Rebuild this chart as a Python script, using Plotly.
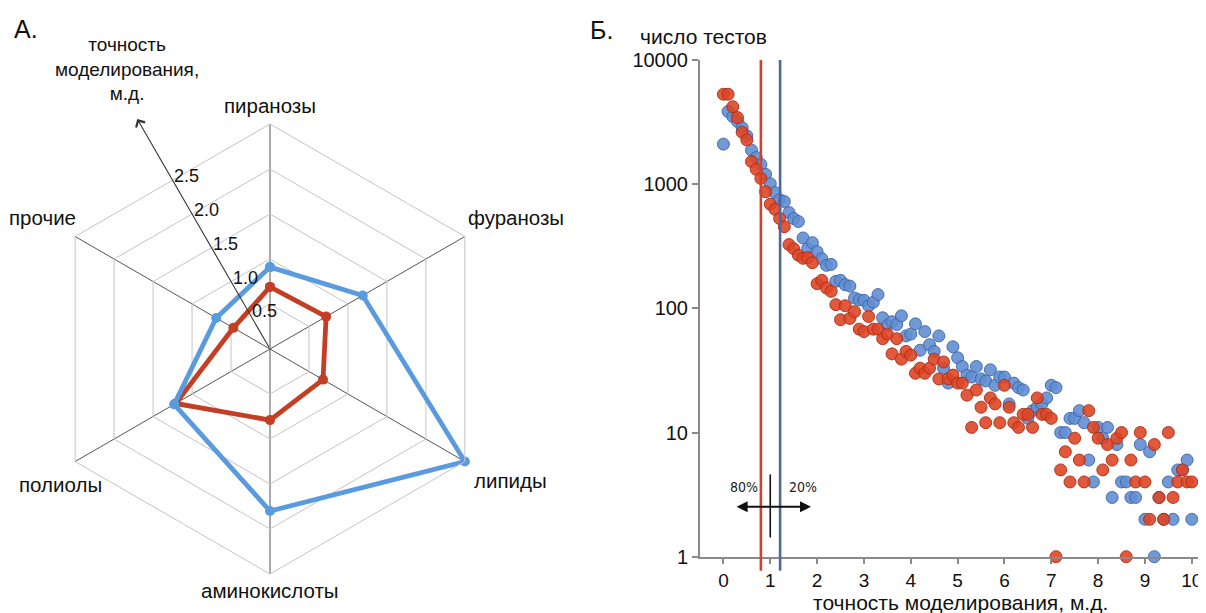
import math
import plotly.graph_objects as go

# ---------------- data ----------------
categories = ["пиранозы", "фуранозы", "липиды", "аминокислоты", "полиолы", "прочие"]
radar_blue = [0.91, 1.19, 2.50, 1.80, 1.23, 0.69]
radar_red = [0.69, 0.72, 0.68, 0.79, 1.21, 0.47]
radial_ticks = [0.5, 1.0, 1.5, 2.0, 2.5]
radial_ticktext = ["0.5", "1.0", "1.5", "2.0", "2.5"]

bins = [0.0, 0.1, 0.2, 0.3, 0.4, 0.5, 0.6, 0.7, 0.8, 0.9,
        1.0, 1.1, 1.2, 1.3, 1.4, 1.5, 1.6, 1.7, 1.8, 1.9,
        2.0, 2.1, 2.2, 2.3, 2.4, 2.5, 2.6, 2.7, 2.8, 2.9,
        3.0, 3.1, 3.2, 3.3, 3.4, 3.5, 3.6, 3.7, 3.8, 3.9,
        4.0, 4.1, 4.2, 4.3, 4.4, 4.5, 4.6, 4.7, 4.8, 4.9,
        5.0, 5.1, 5.2, 5.3, 5.4, 5.5, 5.6, 5.7, 5.8, 5.9,
        6.0, 6.1, 6.2, 6.3, 6.4, 6.5, 6.6, 6.7, 6.8, 6.9,
        7.0, 7.1, 7.2, 7.3, 7.4, 7.5, 7.6, 7.7, 7.8, 7.9,
        8.0, 8.1, 8.2, 8.3, 8.4, 8.5, 8.6, 8.7, 8.8, 8.9,
        9.0, 9.1, 9.2, 9.3, 9.4, 9.5, 9.6, 9.7, 9.8, 9.9, 10.0]

tests_blue = [2100, 3850, 3500, 3200, 2850, 2450, 1880, 1640, 1440, 1200,
              1010, 857, 750, 725, 591, 529, 500, 369, 304, 338,
              286, 251, 222, 226, 165, 168, 155, 151, 121, 117,
              116, 105, 112, 129, 84, 73, 78, 74, 87, 60,
              62, 75, 46, 65, 51, 45, 60, 33, 25, 49,
              40, 34, 29, 28, 34, 27, 26, 32, 24, 28,
              28, 17, 25, 23, 22, 13, 15, 16, 17, 19,
              24, 23, 10, 10, 13, 13, 15, 12, 6, 4,
              11, 9, 11, 3, 8, 4, 4, 3, 3, 8,
              2, 7, 1, 3, 2, 4, 2, 5, 5, 6, 2]

tests_red = [5300, 5300, 4200, 3440, 2620, 2270, 1520, 1316, 1113, 870,
             690, 627, 529, 455, 326, 302, 268, 253, 256, 233,
             158, 168, 146, 137, 107, 81, 105, 83, 94, 68,
             65, 86, 68, 68, 57, 62, 43, 57, 39, 45,
             42, 30, 33, 30, 33, 39, 27, 37, 27, 29,
             25, 25, 20, 11, 22, 16, 12, 19, 17, 12,
             24, 16, 12, 11, 14, 14, 11, 19, 14, 14,
             13, 1, 5, 7, 4, 9, 6, 4, 15, 11,
             9, 5, 8, 6, 9, 10, 1, 6, 4, 10,
             4, 2, 8, 3, 2, 10, 3, 4, 5, 4, 4]

threshold_red = 0.80
threshold_blue = 1.21
y_tickvals = [1, 10, 100, 1000, 10000]
y_ticktext = ["1", "10", "100", "1000", "10000"]
x_tickvals = [0, 1, 2, 3, 4, 5, 6, 7, 8, 9, 10]

# annotation arrow (80% / 20% split)
split_x = 1.0
arrow_left_x, arrow_right_x, arrow_y = 0.25, 1.87, 2.52
split_bar_y = [1.43, 4.6]
label80_x, label20_x, label_y = 0.43, 1.69, 3.62

# ---------------- layout geometry ----------------
# the page body has an 8px margin, so the figure is placed at (8, 8) of the window
OFF = 8
W, H = 1206 - OFF, 613 - OFF
def PX(x):
    return (x - OFF) / W
def PY(y):
    return (H - (y - OFF)) / H

FONT = "Liberation Sans, Arial, sans-serif"
NARROW = "Liberation Sans Narrow, DejaVu Sans Condensed, Arial Narrow, sans-serif"
BLUE_RADAR = "#5a9be0"
RED_RADAR = "#c43e26"

polar_cx, polar_cy, polar_R = 270.0, 349.0, 225.0   # window pixels
polar_dom_x = [PX(polar_cx - polar_R), PX(polar_cx + polar_R)]
polar_dom_y = [PY(polar_cy + polar_R), PY(polar_cy - polar_R)]
radial_angle = 120.0
radial_max = 2.5
arrow_tip_r = 2.95
cat_label_px = [(270, 105), (516, 218), (510, 480), (270, 590), (60, 485), (42, 218)]
radial_label_offset = (14, -4)

x_dom = [PX(700), PX(1203.5)]
y_dom = [PY(556.7), PY(60)]

fig = go.Figure()

# radar
theta_closed = categories + [categories[0]]
fig.add_trace(go.Scatterpolar(
    r=radar_red + [radar_red[0]], theta=theta_closed, mode="lines+markers",
    line=dict(color=RED_RADAR, width=4.8), marker=dict(size=10, color=RED_RADAR),
    showlegend=False, hoverinfo="skip"))
fig.add_trace(go.Scatterpolar(
    r=radar_blue + [radar_blue[0]], theta=theta_closed, mode="lines+markers",
    line=dict(color=BLUE_RADAR, width=4.8), marker=dict(size=10, color=BLUE_RADAR),
    showlegend=False, hoverinfo="skip"))

# scatter
fig.add_trace(go.Scatter(
    x=bins, y=tests_blue, mode="markers", cliponaxis=False,
    marker=dict(size=12, color="rgba(96,142,210,0.9)",
                line=dict(width=1, color="rgba(62,100,170,0.9)")),
    showlegend=False, hoverinfo="skip"))
fig.add_trace(go.Scatter(
    x=bins, y=tests_red, mode="markers", cliponaxis=False,
    marker=dict(size=12, color="rgba(222,70,38,0.9)",
                line=dict(width=1, color="rgba(170,45,25,0.9)")),
    showlegend=False, hoverinfo="skip"))

# split bar
fig.add_trace(go.Scatter(
    x=[split_x, split_x], y=split_bar_y, mode="lines",
    line=dict(color="#111", width=1.6), showlegend=False, hoverinfo="skip"))

# threshold lines
for xv, col in [(threshold_red, "#d2412a"), (threshold_blue, "#50669f")]:
    fig.add_shape(type="line", xref="x", yref="paper", x0=xv, x1=xv,
                  y0=PY(570.7), y1=y_dom[1], line=dict(color=col, width=2.6))

annotations = []
annotations.append(dict(
    x=arrow_right_x, y=math.log10(arrow_y), ax=arrow_left_x, ay=math.log10(arrow_y),
    xref="x", yref="y", axref="x", ayref="y", text="", showarrow=True,
    arrowhead=2, startarrowhead=2, arrowside="end+start", arrowsize=1.1,
    startarrowsize=1.1, arrowwidth=2, arrowcolor="#111"))
for lx, txt in [(label80_x, "80%"), (label20_x, "20%")]:
    annotations.append(dict(x=lx, y=math.log10(label_y), xref="x", yref="y",
                            text=txt, showarrow=False,
                            font=dict(family=NARROW, size=14, color="#222")))

# radar radial arrow
ang = math.radians(radial_angle)
scale = polar_R / radial_max
tip_dx = arrow_tip_r * scale * math.cos(ang)
tip_dy = arrow_tip_r * scale * math.sin(ang)
annotations.append(dict(
    x=PX(polar_cx + tip_dx), y=PY(polar_cy - tip_dy), xref="paper", yref="paper",
    ax=-tip_dx, ay=tip_dy, text="", showarrow=True, arrowhead=4, arrowsize=1.8,
    arrowwidth=1.1, arrowcolor="#333"))

# radial tick labels along the arrow
n = len(categories)
vertex_angles = [90 - i * 360 / n for i in range(n)]
def hex_factor(a_deg):
    best = 180
    for va in vertex_angles:
        d = abs(((a_deg - va) + 180) % 360 - 180)
        best = min(best, d)
    half = 180 / n
    return math.cos(math.radians(half)) / math.cos(math.radians(half - best))
hf = hex_factor(radial_angle)
for v, t in zip(radial_ticks, radial_ticktext):
    d = v * scale * hf
    px = polar_cx + d * math.cos(ang) + radial_label_offset[0]
    py = polar_cy - d * math.sin(ang) + radial_label_offset[1]
    annotations.append(dict(x=PX(px), y=PY(py), xref="paper", yref="paper",
                            text=t, showarrow=False, xanchor="center", yanchor="middle",
                            font=dict(family=FONT, size=18, color="#111")))

for (lx, ly), t in zip(cat_label_px, categories):
    annotations.append(dict(x=PX(lx), y=PY(ly), xref="paper", yref="paper",
                            text=t, showarrow=False, xanchor="center", yanchor="middle",
                            font=dict(family=FONT, size=20.5, color="#111")))

annotations += [
    dict(x=PX(12), y=PY(29), xref="paper", yref="paper", text="А.", showarrow=False,
         xanchor="left", yanchor="middle", font=dict(family=FONT, size=25, color="#111")),
    dict(x=PX(588), y=PY(30), xref="paper", yref="paper", text="Б.", showarrow=False,
         xanchor="left", yanchor="middle", font=dict(family=FONT, size=25, color="#111")),
    dict(x=PX(127), y=PY(69), xref="paper", yref="paper",
         text="точность<br>моделирования,<br>м.д.", showarrow=False, align="center",
         xanchor="center", yanchor="middle", font=dict(family=FONT, size=19, color="#111")),
    dict(x=PX(703), y=PY(37), xref="paper", yref="paper", text="число тестов",
         showarrow=False, xanchor="center", yanchor="middle",
         font=dict(family=FONT, size=21, color="#111")),
    dict(x=PX(960), y=PY(602), xref="paper", yref="paper",
         text="точность моделирования, м.д.", showarrow=False, xanchor="center",
         yanchor="middle", font=dict(family=FONT, size=21, color="#111")),
]

fig.update_layout(
    width=W, height=H, autosize=False,
    margin=dict(l=0, r=0, t=0, b=0, pad=0),
    paper_bgcolor="white", plot_bgcolor="white",
    font=dict(family=FONT, color="#111"),
    polar=dict(
        domain=dict(x=polar_dom_x, y=polar_dom_y),
        gridshape="linear", bgcolor="white",
        angularaxis=dict(rotation=90, direction="clockwise",
                         categoryorder="array", categoryarray=categories,
                         showline=True, linecolor="#c4c4c4", linewidth=1,
                         gridcolor="#555", gridwidth=1, ticks="",
                         showticklabels=False),
        radialaxis=dict(range=[0, radial_max], tickvals=radial_ticks,
                        angle=radial_angle, showticklabels=False,
                        showline=False, gridcolor="#c4c4c4", gridwidth=1,
                        ticks=""),
    ),
    xaxis=dict(domain=x_dom, range=[-0.5, 10.25], tickvals=x_tickvals,
               ticks="outside", ticklen=5, tickcolor="#8a8a8a", tickwidth=1.5,
               showline=True, linecolor="#8a8a8a", linewidth=2, showgrid=False,
               zeroline=False, automargin=False,
               tickfont=dict(family=FONT, size=19, color="#111"), anchor="y"),
    yaxis=dict(domain=y_dom, type="log", range=[0, 4], tickvals=y_tickvals,
               ticktext=y_ticktext, ticks="outside", ticklen=6, tickcolor="#8a8a8a",
               tickwidth=1.5, showline=True, linecolor="#8a8a8a", linewidth=2,
               showgrid=False, zeroline=False, automargin=False,
               tickfont=dict(family=FONT, size=20, color="#111"), anchor="x"),
    annotations=annotations,
)

fig.write_html("out.html")
